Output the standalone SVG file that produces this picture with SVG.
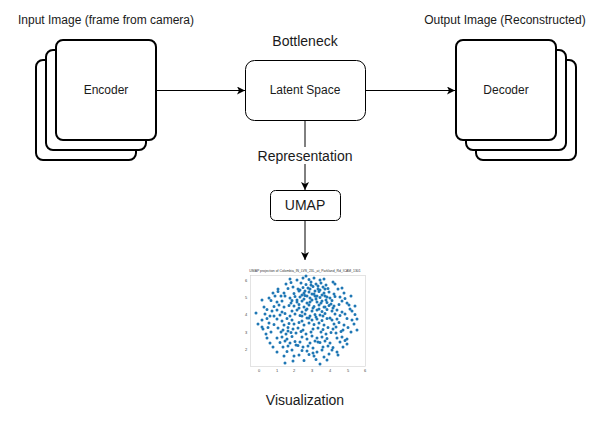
<svg xmlns="http://www.w3.org/2000/svg" width="606" height="421" viewBox="0 0 606 421">
<defs>
<marker id="arr" markerWidth="10" markerHeight="10" refX="8" refY="4" orient="auto" markerUnits="userSpaceOnUse">
<path d="M0,0 L8,4 L0,8 L2,4 Z" fill="#000"/>
</marker>
<style>
.stk{fill:#fff;stroke:#000;stroke-width:2}
.box{fill:#fff;stroke:#000;stroke-width:1}
.t12{font-family:"Liberation Sans",Arial,sans-serif;font-size:12px;fill:#1a1a1a;text-anchor:middle}
.t14{font-family:"Liberation Sans",Arial,sans-serif;font-size:14px;fill:#1a1a1a;text-anchor:middle}
.tk{font-family:"Liberation Sans",Arial,sans-serif;font-size:4px;fill:#444;text-anchor:middle}
.ln{stroke:#000;stroke-width:1;fill:none}
</style>
</defs>
<rect width="606" height="421" fill="#fff"/>

<g id="labels">
<text class="t12" x="106" y="24">Input Image (frame from camera)</text>
<text class="t12" x="505" y="24">Output Image (Reconstructed)</text>
<text class="t14" x="305" y="46">Bottleneck</text>
<text class="t14" x="305" y="405">Visualization</text>
</g>

<g id="encoder">
<rect class="stk" x="36" y="60" width="100" height="100" rx="7"/>
<rect class="stk" x="46" y="50" width="100" height="100" rx="7"/>
<rect class="stk" x="56" y="40" width="100" height="100" rx="7"/>
<text class="t12" x="106" y="94">Encoder</text>
</g>

<g id="decoder">
<rect class="stk" x="476" y="60" width="100" height="100" rx="7"/>
<rect class="stk" x="466" y="50" width="100" height="100" rx="7"/>
<rect class="stk" x="456" y="40" width="100" height="100" rx="7"/>
<text class="t12" x="506" y="94">Decoder</text>
</g>

<g id="latent">
<rect class="box" x="245.5" y="60.5" width="120" height="60" rx="9"/>
<text class="t12" x="305" y="94">Latent Space</text>
</g>

<g id="umap">
<rect class="box" x="270.5" y="190.5" width="70" height="30" rx="5"/>
<text class="t14" x="305" y="210">UMAP</text>
</g>

<g id="connectors">
<line class="ln" x1="157" y1="90.5" x2="245" y2="90.5" marker-end="url(#arr)"/>
<line class="ln" x1="366" y1="90.5" x2="455" y2="90.5" marker-end="url(#arr)"/>
<line class="ln" x1="305" y1="121" x2="305" y2="190" marker-end="url(#arr)"/>
<rect x="256" y="147" width="98" height="17" fill="#fff"/>
<text class="t14" x="305" y="161">Representation</text>
<line class="ln" x1="305" y1="221" x2="305" y2="260" marker-end="url(#arr)"/>
</g>

<g id="plot">
<text x="305" y="272" font-family="Liberation Sans, Arial, sans-serif" font-size="3.4" fill="#333" text-anchor="middle">UMAP projection of Colombia_IN_LVS_23L_at_Parkland_Rd_ICAM_1301</text>
<rect x="250.5" y="275.5" width="115" height="91" fill="none" stroke="#d0d0d0" stroke-width="0.6"/>
<g class="tk">
<text x="259" y="372">0</text><text x="277" y="372">1</text><text x="294" y="372">2</text><text x="312" y="372">3</text><text x="330" y="372">4</text><text x="348" y="372">5</text><text x="365" y="372">6</text>
<text x="246" y="282">6</text><text x="246" y="299">5</text><text x="246" y="316">4</text><text x="246" y="334">3</text><text x="246" y="351">2</text>
</g>
<path fill="none" stroke="#1f77b4" stroke-width="3" stroke-linecap="round" d="
M297 280h0M303 278h0M309 279.5h0M314 278h0M320 280h0M324 279h0M290 279h0M306 276h0
M286 284h0M291 282.5h0M301 283h0M306 284.5h0M311 282h0M316 284h0M321 283h0M326 285h0M335 284h0
M278 289h0M288 288.5h0M293 287h0M298 289h0M303 287.5h0M308 288h0M313 286.5h0M318 289h0M323 287h0M328 288.5h0M338 289h0M342 288h0
M273 293h0M278 291.5h0M284 293h0M294 293.5h0M299 291h0M304 293h0M309 292h0M314 294h0M319 291.5h0M324 293h0M329 292h0M334 294h0M344 293h0
M269 298h0M275 296h0M285 296h0M290 298h0M295 296.5h0M300 297h0M305 295.5h0M310 298h0M315 296h0M320 297.5h0M325 296h0M330 298h0M335 296.5h0M340 297h0M345 298.5h0M351 296h0
M262 300h0M271 300.5h0M277 302h0M282 301h0M292 300.5h0M297 302h0M302 301h0M307 303h0M312 300h0M317 302h0M322 301h0M327 302.5h0M332 300.5h0M342 301h0M347 303h0
M264 307h0M274 306.5h0M279 305h0M284 307h0M289 305.5h0M294 306h0M299 304.5h0M304 307h0M309 305h0M314 306.5h0M319 305h0M324 307h0M329 305.5h0M334 306h0M339 304.5h0M349 305h0M355 306h0
M267 309.5h0M272 311h0M277 310h0M282 312h0M292 311h0M297 310h0M302 312h0M307 309h0M312 311h0M317 310h0M322 311.5h0M327 309.5h0M332 311h0M337 310h0M342 312h0M352 311h0
M256 313h0M265 314h0M270 316h0M280 315h0M285 313.5h0M290 316h0M295 314h0M300 315.5h0M305 314h0M310 316h0M315 314.5h0M320 315h0M325 313.5h0M335 314h0M340 315.5h0M345 314h0M355 314.5h0
M262 320h0M267 318.5h0M277 319h0M282 321h0M287 318.5h0M292 320h0M302 321h0M307 318h0M312 320h0M317 319h0M322 320.5h0M327 318.5h0M332 320h0M337 319h0M347 318.5h0M352 320h0M357 319h0
M258 324h0M269 323h0M274 324.5h0M284 325h0M289 323.5h0M294 324h0M299 322.5h0M304 325h0M309 323h0M314 324.5h0M319 323h0M324 325h0M334 324h0M339 322.5h0M344 325h0M354 324h0
M263 329h0M268 327.5h0M278 328h0M283 330h0M288 327.5h0M293 329h0M298 328h0M303 330h0M313 329h0M318 328h0M323 329.5h0M328 327.5h0M333 329h0M343 330h0M348 327.5h0M357 330h0
M266 334h0M271 332h0M281 332h0M286 334h0M291 332.5h0M296 333h0M301 331.5h0M306 334h0M311 332h0M321 332h0M326 334h0M331 332.5h0M336 333h0M341 331.5h0M351 332h0
M267 338h0M277 338h0M282 337h0M287 339h0M292 336.5h0M302 337h0M307 339h0M312 336h0M317 338h0M322 337h0M327 338.5h0M337 338h0M342 337h0M347 339h0
M270 343h0M280 342.5h0M285 341h0M290 343h0M295 341.5h0M300 342h0M310 343h0M315 341h0M320 342.5h0M325 341h0M330 343h0M340 342h0M345 340.5h0
M273 347h0M283 347h0M288 346h0M298 345.5h0M303 347h0M308 346h0M313 348h0M323 347h0M328 346h0M333 347.5h0M343 347h0
M277 352h0M287 351.5h0M292 350h0M302 350.5h0M307 351h0M317 352h0M322 350h0M332 350h0M337 352h0
M284 356h0M294 356h0M299 355h0M309 354.5h0M314 356h0M324 357h0M329 354h0M338 355h0
M293 361h0M304 360.5h0M316 359.5h0M327 360h0M285 363h0M320 364h0
M300 290h0M305 291h0M310 289h0M315 291h0M320 290h0M325 289h0M302 295h0M307 296h0M312 294h0M317 296h0M322 295h0M327 297h0
M297 300h0M304 299h0M310 302h0M316 299h0M321 303h0M326 300h0M331 304h0M299 308h0M306 310h0M313 308h0M319 309h0M325 307h0M333 308h0
M302 316h0M309 318h0M316 317h0M323 316h0M330 318h0M311 285h0M318 286h0
M274 316h0M288 331h0M296 345h0M318 342h0M336 327h0M350 309h0M281 296h0M333 282h0M262 327h0M347 344h0M313 353h0M291 303h0"/>
</g>
</svg>
